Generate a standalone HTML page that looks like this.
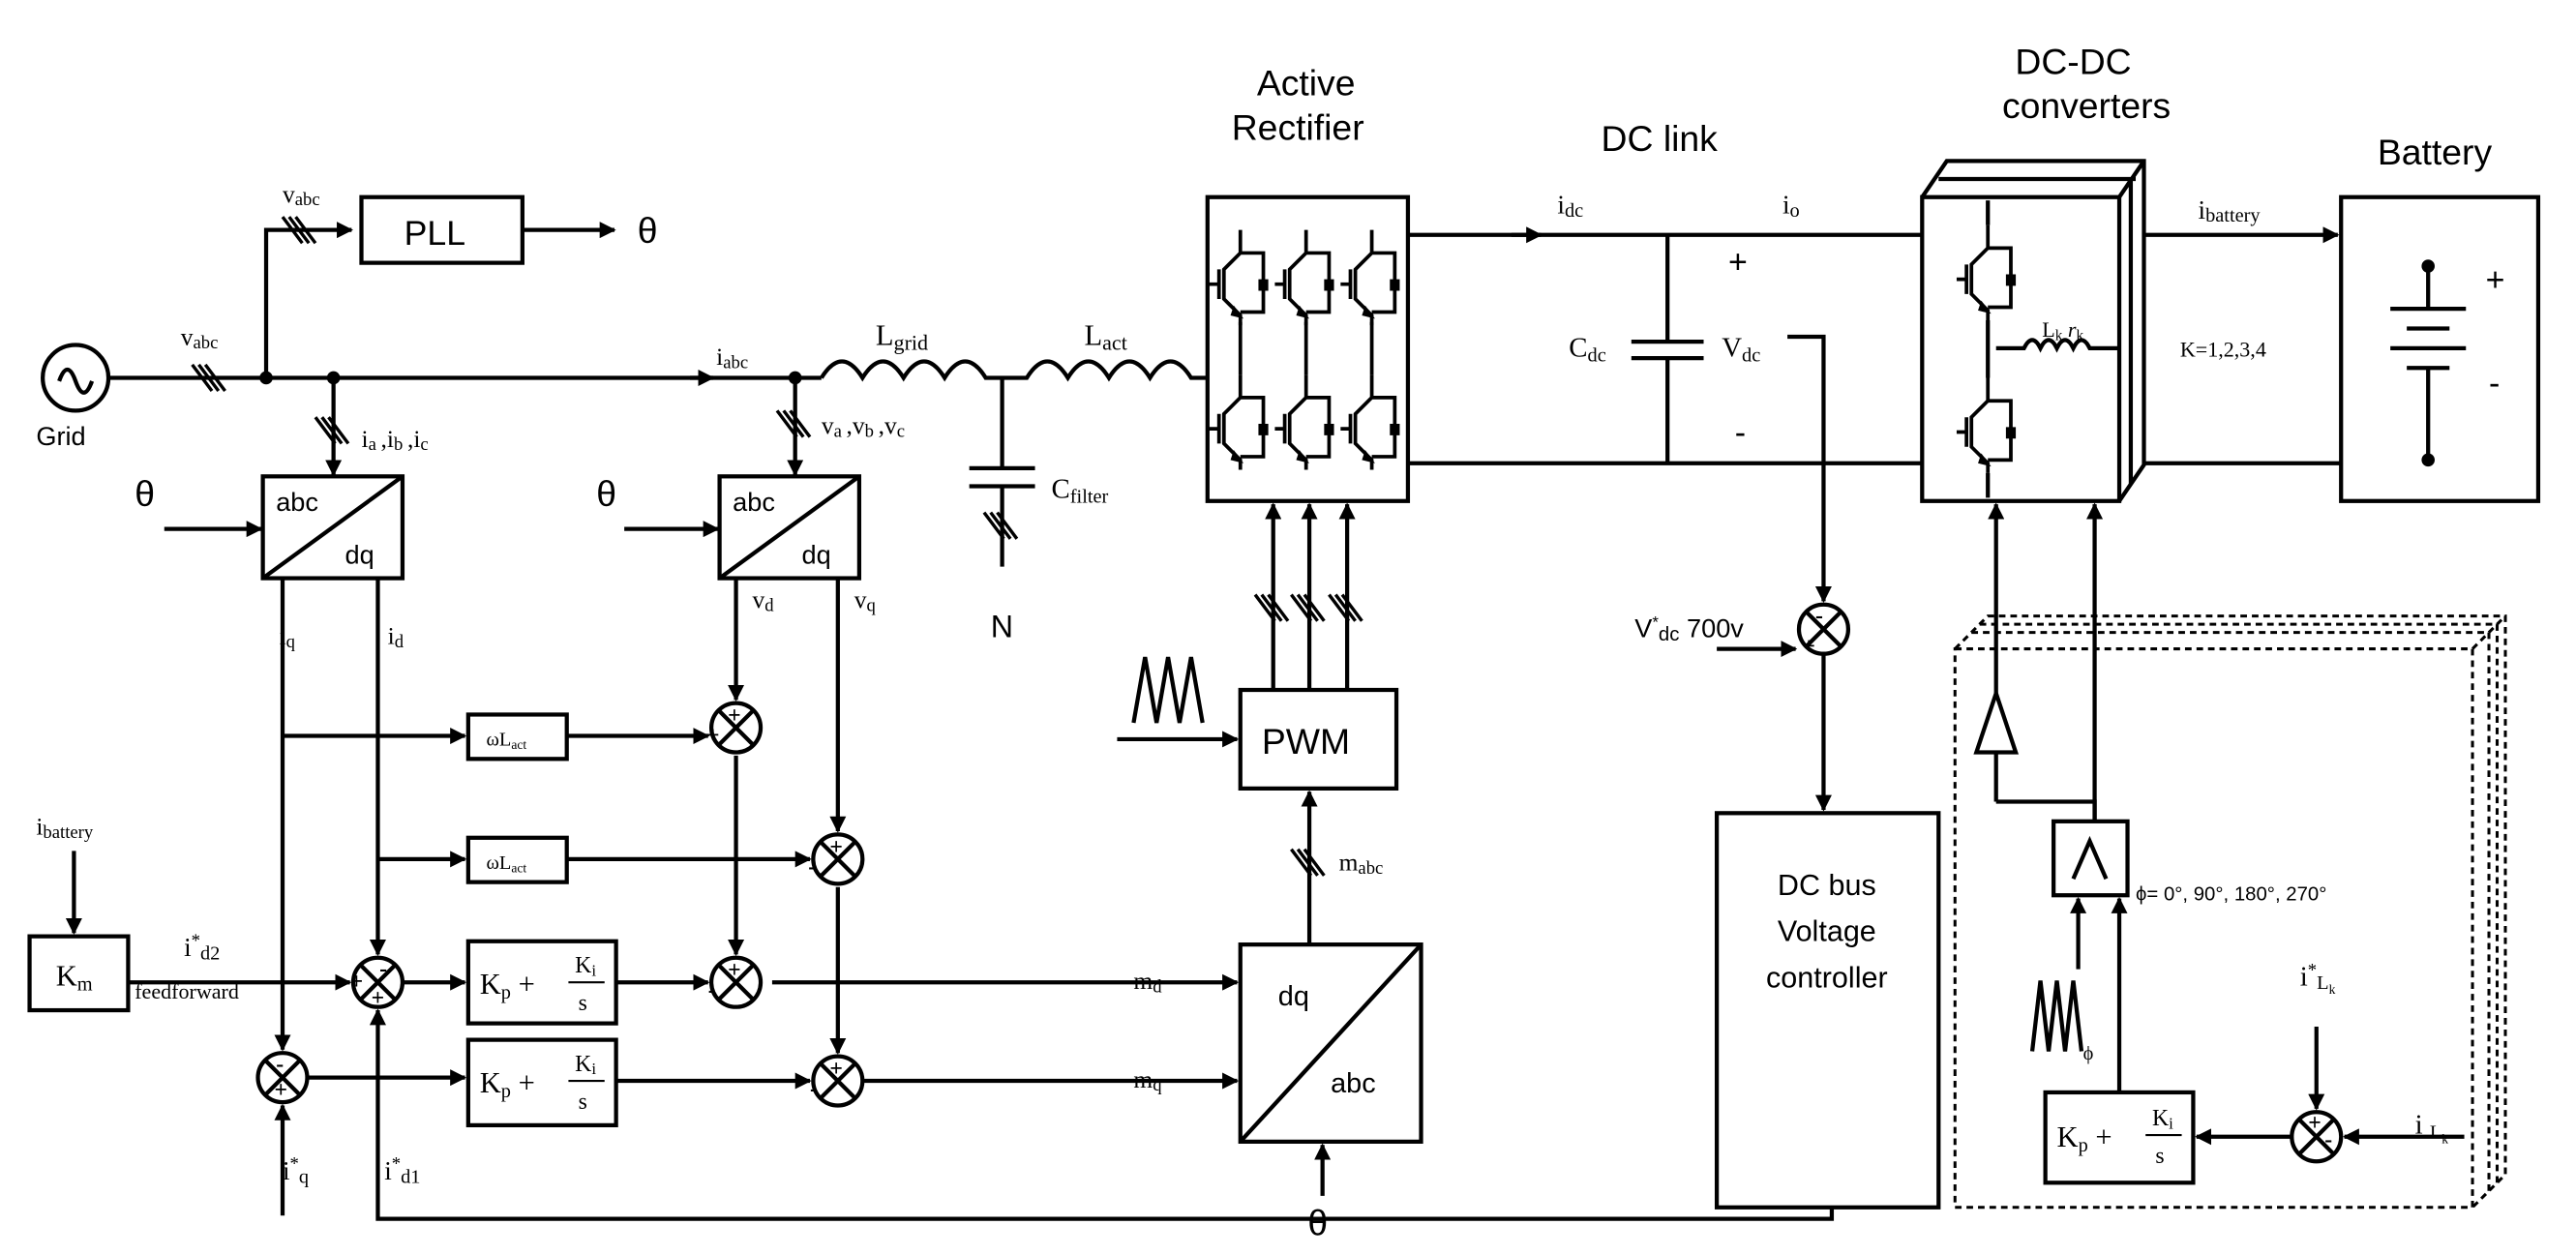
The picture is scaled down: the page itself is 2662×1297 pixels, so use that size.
<!DOCTYPE html>
<html><head><meta charset="utf-8"><style>
html,body{margin:0;padding:0;background:#fff;width:2662px;height:1297px;overflow:hidden}
svg{display:block}
text{font-family:"Liberation Serif",serif;fill:#000}
.s{font-family:"Liberation Sans",sans-serif}
</style></head><body>
<svg width="2662" height="1297" viewBox="0 0 1568 764" preserveAspectRatio="none" xmlns="http://www.w3.org/2000/svg">
<defs>
<marker id="a" markerWidth="10" markerHeight="10" refX="9" refY="5" orient="auto" markerUnits="userSpaceOnUse"><path d="M0,0 L10,5 L0,10 Z" fill="#000"/></marker>
<g id="sw"><path d="M0,-28 V-14 H14 V22 H0 M0,-14 L-10,-4 V14 L0,24 V30 M-13,-4 V14 M-13,5 H-19" fill="none" stroke="#000" stroke-width="2.2"/><path d="M-4,18 L2,26 L-6,24Z" fill="#000"/><rect x="11" y="2" width="6" height="7" fill="#000"/></g>
<g id="tri"><path d="M-6,-8 L6,8 M-2,-8 L10,8 M2,-8 L14,8" stroke="#000" stroke-width="2"/></g>
</defs>
<g fill="none" stroke="#000" stroke-width="2.5">
<circle cx="46" cy="230" r="20"/>
<path d="M36,232 q5,-14 10,0 q5,14 10,0" />
<path d="M66,230 H500"/>
<path d="M420,230 H434" marker-end="url(#a)"/>
<path d="M162,230 V140 H214" marker-end="url(#a)"/>
<rect x="220" y="120" width="98" height="40"/>
<path d="M318,140 H374" marker-end="url(#a)"/>
<path d="M203,230 V289" marker-end="url(#a)"/>
<rect x="160" y="290" width="85" height="62"/><path d="M160,352 L245,290"/>
<path d="M100,322 H159" marker-end="url(#a)"/>
<path d="M484,230 V289" marker-end="url(#a)"/>
<rect x="438" y="290" width="85" height="62"/><path d="M438,352 L523,290"/>
<path d="M380,322 H437" marker-end="url(#a)"/>
<path d="M500,230 q12.5,-20 25,0 q12.5,-20 25,0 q12.5,-20 25,0 q12.5,-20 25,0 H625 q12.5,-20 25,0 q12.5,-20 25,0 q12.5,-20 25,0 q12.5,-20 25,0 H735"/>
<path d="M610,230 V285 M590,285 H630 M590,296 H630 M610,296 V345"/>
<rect x="735" y="120" width="122" height="185"/>
<path d="M857,143 H1170 M857,282 H1170"/>
<path d="M920,143 H938" marker-end="url(#a)"/>
<path d="M1015,143 V208 M993,208 H1037 M993,218 H1037 M1015,218 V282"/>
<path d="M1088,205 H1110 V366" marker-end="url(#a)"/>
<circle cx="1110" cy="383" r="15"/><path d="M1099,372 L1121,394 M1121,372 L1099,394"/>
<path d="M1045,395 H1093" marker-end="url(#a)"/>
<path d="M1110,398 V493" marker-end="url(#a)"/>
<rect x="1045" y="495" width="135" height="240"/>
<path d="M1115,735 V742 H230 V615" marker-end="url(#a)"/>
<path d="M1170,120 L1185,98 H1305 V283 L1290,305 M1290,120 L1305,98 M1180,109 H1300 M1297,109 V295"/>
<rect x="1170" y="120" width="120" height="185"/>
<path d="M1215,212 H1232 q5,-10 10,0 q5,-10 10,0 q5,-10 10,0 q5,-10 10,0 H1290"/>
<path d="M1210,195 V230"/>
<path d="M1210,137 V122 M1210,288 V303"/>
<path d="M1305,143 H1423" marker-end="url(#a)"/><path d="M1305,282 H1425"/>
<rect x="1425" y="120" width="120" height="185"/>
<path d="M1478,162 V188 M1455,188 H1501 M1465,200 H1491 M1455,212 H1501 M1465,224 H1491 M1478,224 V280"/>
<rect x="755" y="420" width="95" height="60"/>
<path d="M775,420 V307" marker-end="url(#a)"/>
<path d="M797,420 V307" marker-end="url(#a)"/>
<path d="M820,420 V307" marker-end="url(#a)"/>
<path d="M690,440 L697,400 L704,440 L711,400 L718,440 L725,400 L732,440"/>
<path d="M680,450 H753" marker-end="url(#a)"/>
<path d="M797,575 V482" marker-end="url(#a)"/>
<rect x="755" y="575" width="110" height="120"/><path d="M755,695 L865,575"/>
<path d="M805,728 V697" marker-end="url(#a)"/>
<path d="M470,598 H753" marker-end="url(#a)"/>
<path d="M525,658 H753" marker-end="url(#a)"/>
<path d="M172,352 V639" marker-end="url(#a)"/>
<path d="M230,352 V581" marker-end="url(#a)"/>
<path d="M172,448 H283" marker-end="url(#a)"/>
<rect x="285" y="435" width="60" height="27"/>
<path d="M345,448 H431" marker-end="url(#a)"/>
<path d="M230,523 H283" marker-end="url(#a)"/>
<rect x="285" y="510" width="60" height="27"/>
<path d="M345,523 H493" marker-end="url(#a)"/>
<path d="M448,352 V426" marker-end="url(#a)"/>
<path d="M510,352 V506" marker-end="url(#a)"/>
<path d="M448,460 V581" marker-end="url(#a)"/>
<path d="M510,540 V641" marker-end="url(#a)"/>
<circle cx="448" cy="443" r="15"/><path d="M437,432 L459,454 M459,432 L437,454"/>
<circle cx="510" cy="523" r="15"/><path d="M499,512 L521,534 M521,512 L499,534"/>
<circle cx="448" cy="598" r="15"/><path d="M437,587 L459,609 M459,587 L437,609"/>
<circle cx="510" cy="658" r="15"/><path d="M499,647 L521,669 M521,647 L499,669"/>
<circle cx="230" cy="598" r="15"/><path d="M219,587 L241,609 M241,587 L219,609"/>
<circle cx="172" cy="656" r="15"/><path d="M161,645 L183,667 M183,645 L161,667"/>
<path d="M245,598 H283" marker-end="url(#a)"/>
<rect x="285" y="573" width="90" height="50"/>
<path d="M375,598 H431" marker-end="url(#a)"/>
<path d="M187,656 H283" marker-end="url(#a)"/>
<rect x="285" y="633" width="90" height="52"/>
<path d="M375,658 H493" marker-end="url(#a)"/>
<rect x="18" y="570" width="60" height="45"/>
<path d="M45,518 V568" marker-end="url(#a)"/>
<path d="M78,598 H213" marker-end="url(#a)"/>
<path d="M172,740 V673" marker-end="url(#a)"/>
<g stroke-dasharray="4,3" stroke-width="1.8">
<rect x="1190" y="395" width="315" height="340"/>
<path d="M1190,395 L1210,375 H1525 V715 L1505,735 M1505,395 L1525,375"/>
<path d="M1200,385 H1515 V725 M1205,380 H1520 V720"/>
</g>
<path d="M1215,488 V458"/>
<path d="M1215,422 V307" marker-end="url(#a)"/>
<path d="M1203,458 L1227,458 L1215,422 Z"/>
<path d="M1275,500 V488 H1215"/>
<path d="M1275,500 V307" marker-end="url(#a)"/>
<rect x="1250" y="500" width="45" height="45"/>
<path d="M1262,535 L1272,512 L1282,535"/>
<path d="M1265,590 V547" marker-end="url(#a)"/>
<path d="M1290,665 V547" marker-end="url(#a)"/>
<path d="M1237,640 L1242,597 L1247,640 L1252,597 L1257,640 L1262,597 L1267,640"/>
<rect x="1245" y="665" width="90" height="55"/>
<path d="M1395,692 H1337" marker-end="url(#a)"/>
<circle cx="1410" cy="692" r="15"/><path d="M1399,681 L1421,703 M1421,681 L1399,703"/>
<path d="M1410,625 V675" marker-end="url(#a)"/>
<path d="M1500,692 H1427" marker-end="url(#a)"/>
</g>
<use href="#sw" x="755" y="168"/><use href="#sw" x="795" y="168"/><use href="#sw" x="835" y="168"/>
<use href="#sw" x="755" y="256"/><use href="#sw" x="795" y="256"/><use href="#sw" x="835" y="256"/>
<use href="#sw" x="1210" y="165"/><use href="#sw" x="1210" y="258"/>
<path d="M755,196 V228 M795,196 V228 M835,196 V228" stroke="#000" stroke-width="2.2"/>
<circle cx="162" cy="230" r="4"/><circle cx="203" cy="230" r="4"/><circle cx="484" cy="230" r="4"/>
<circle cx="1478" cy="162" r="4"/><circle cx="1478" cy="280" r="4"/>
<use href="#tri" x="123" y="230"/><use href="#tri" x="178" y="140"/><use href="#tri" x="198" y="262"/><use href="#tri" x="479" y="258"/><use href="#tri" x="605" y="320"/>
<use href="#tri" x="770" y="370"/><use href="#tri" x="792" y="370"/><use href="#tri" x="815" y="370"/><use href="#tri" x="792" y="525"/>
<g font-size="15">
<text x="110" y="210">v<tspan font-size="11" dy="2">abc</tspan></text>
<text x="172" y="123">v<tspan font-size="11" dy="2">abc</tspan></text>
<text x="22" y="271" class="s" font-size="16">Grid</text>
<text x="436" y="222">i<tspan font-size="11" dy="2">abc</tspan></text>
<text x="533" y="210" font-size="18">L<tspan font-size="13" dy="3">grid</tspan></text>
<text x="660" y="210" font-size="18">L<tspan font-size="13" dy="3">act</tspan></text>
<text x="640" y="303" font-size="17">C<tspan font-size="12" dy="3">filter</tspan></text>
<text x="220" y="272">i<tspan font-size="11" dy="2">a </tspan><tspan dy="-2">,i</tspan><tspan font-size="11" dy="2">b </tspan><tspan dy="-2">,i</tspan><tspan font-size="11" dy="2">c</tspan></text>
<text x="500" y="264">v<tspan font-size="11" dy="2">a </tspan><tspan dy="-2">,v</tspan><tspan font-size="11" dy="2">b </tspan><tspan dy="-2">,v</tspan><tspan font-size="11" dy="2">c</tspan></text>
<text x="948" y="130" font-size="16">i<tspan font-size="12" dy="2">dc</tspan></text>
<text x="1085" y="130" font-size="16">i<tspan font-size="12" dy="2">o</tspan></text>
<text x="955" y="217" font-size="17">C<tspan font-size="12" dy="3">dc</tspan></text>
<text x="1048" y="217" font-size="17">V<tspan font-size="12" dy="3">dc</tspan></text>
<text x="1243" y="205" font-size="13">L<tspan font-size="9" dy="2">k</tspan><tspan dy="-2" font-style="italic">  r</tspan><tspan font-size="9" dy="2">k</tspan></text>
<text x="1327" y="217" font-size="13">K=1,2,3,4</text>
<text x="1338" y="133" font-size="16">i<tspan font-size="12" dy="2">battery</tspan></text>
<text x="170" y="392">i<tspan font-size="11" dy="2">q</tspan></text>
<text x="236" y="392">i<tspan font-size="11" dy="2">d</tspan></text>
<text x="458" y="370">v<tspan font-size="11" dy="2">d</tspan></text>
<text x="520" y="370">v<tspan font-size="11" dy="2">q</tspan></text>
<text x="296" y="454" font-size="12">ωL<tspan font-size="8" dy="2">act</tspan></text>
<text x="296" y="529" font-size="12">ωL<tspan font-size="8" dy="2">act</tspan></text>
<text x="22" y="508">i<tspan font-size="11" dy="2">battery</tspan></text>
<text x="34" y="600" font-size="18">K<tspan font-size="12" dy="3">m</tspan></text>
<text x="112" y="582" font-size="16">i<tspan font-size="11" dy="-6">*</tspan><tspan font-size="12" dy="8">d2</tspan></text>
<text x="82" y="608" font-size="13">feedforward</text>
<text x="172" y="718" font-size="16">i<tspan font-size="11" dy="-6">*</tspan><tspan font-size="12" dy="8">q</tspan></text>
<text x="234" y="718" font-size="16">i<tspan font-size="11" dy="-6">*</tspan><tspan font-size="12" dy="8">d1</tspan></text>
<text x="690" y="602">m<tspan font-size="11" dy="2">d</tspan></text>
<text x="690" y="662">m<tspan font-size="11" dy="2">q</tspan></text>
<text x="815" y="530">m<tspan font-size="11" dy="2">abc</tspan></text>
<text x="995" y="388" class="s" font-size="16">V<tspan font-size="10" dy="-6">*</tspan><tspan font-size="12" dy="8">dc</tspan><tspan dy="-2"> 700v</tspan></text>
<text x="1400" y="600" font-size="17">i<tspan font-size="11" dy="-6">*</tspan><tspan font-size="12" dy="8">L</tspan><tspan font-size="8" dy="3">k</tspan></text>
<text x="1470" y="690" font-size="17">i <tspan font-size="12" dy="3">L</tspan><tspan font-size="8" dy="3">k</tspan></text>
<text x="1300" y="548" class="s" font-size="12">ϕ= 0°, 90°, 180°, 270°</text>
<text x="1268" y="645" font-size="12">ϕ</text>
</g>
<g class="s">
<text x="246" y="149" class="s" font-size="21">PLL</text>
<text x="388" y="148" class="s" font-size="22">θ</text>
<text x="82" y="308" class="s" font-size="22">θ</text>
<text x="363" y="308" class="s" font-size="22">θ</text>
<text x="796" y="752" class="s" font-size="22">θ</text>
<text x="603" y="388" class="s" font-size="19">N</text>
<text x="168" y="311" class="s" font-size="16">abc</text><text x="210" y="343" class="s" font-size="16">dq</text>
<text x="446" y="311" class="s" font-size="16">abc</text><text x="488" y="343" class="s" font-size="16">dq</text>
<text x="778" y="612" class="s" font-size="17">dq</text><text x="810" y="665" class="s" font-size="17">abc</text>
<text x="768" y="459" class="s" font-size="22">PWM</text>
<text x="795" y="58" class="s" font-size="22" text-anchor="middle">Active</text>
<text x="790" y="85" class="s" font-size="22" text-anchor="middle">Rectifier</text>
<text x="1010" y="92" class="s" font-size="22" text-anchor="middle">DC link</text>
<text x="1262" y="45" class="s" font-size="22" text-anchor="middle">DC-DC</text>
<text x="1270" y="72" class="s" font-size="22" text-anchor="middle">converters</text>
<text x="1482" y="100" class="s" font-size="22" text-anchor="middle">Battery</text>
<text x="1112" y="545" class="s" font-size="18" text-anchor="middle">DC bus</text>
<text x="1112" y="573" class="s" font-size="18" text-anchor="middle">Voltage</text>
<text x="1112" y="601" class="s" font-size="18" text-anchor="middle">controller</text>
<text x="1052" y="166" class="s" font-size="20">+</text>
<text x="1056" y="270" class="s" font-size="20">-</text>
<text x="1513" y="177" class="s" font-size="20">+</text>
<text x="1515" y="240" class="s" font-size="20">-</text>
</g>
<g font-size="18">
<text x="292" y="605">K<tspan font-size="12" dy="3">p</tspan><tspan dy="-3"> +</tspan></text>
<text x="350" y="592" font-size="14">K<tspan font-size="10" dy="2">i</tspan></text><path d="M346,598 H368" stroke="#000" stroke-width="1.2"/><text x="352" y="615" font-size="14">s</text>
<text x="292" y="665">K<tspan font-size="12" dy="3">p</tspan><tspan dy="-3"> +</tspan></text>
<text x="350" y="652" font-size="14">K<tspan font-size="10" dy="2">i</tspan></text><path d="M346,658 H368" stroke="#000" stroke-width="1.2"/><text x="352" y="675" font-size="14">s</text>
<text x="1252" y="698">K<tspan font-size="12" dy="3">p</tspan><tspan dy="-3"> +</tspan></text>
<text x="1310" y="685" font-size="14">K<tspan font-size="10" dy="2">i</tspan></text><path d="M1306,691 H1328" stroke="#000" stroke-width="1.2"/><text x="1312" y="708" font-size="14">s</text>
</g>
<g class="s" font-size="14" font-weight="bold">
<text x="443" y="440">+</text><text x="430" y="452">+</text>
<text x="505" y="520">+</text><text x="492" y="532">-</text>
<text x="443" y="595">+</text><text x="431" y="607">-</text>
<text x="505" y="655">+</text><text x="493" y="667">-</text>
<text x="231" y="594">-</text><text x="213" y="602">+</text><text x="226" y="612">+</text>
<text x="168" y="652">-</text><text x="167" y="668">+</text>
<text x="1105" y="379">-</text><text x="1097" y="398">+</text>
<text x="1405" y="688">+</text><text x="1415" y="698">-</text>
</g>
</svg>
</body></html>
